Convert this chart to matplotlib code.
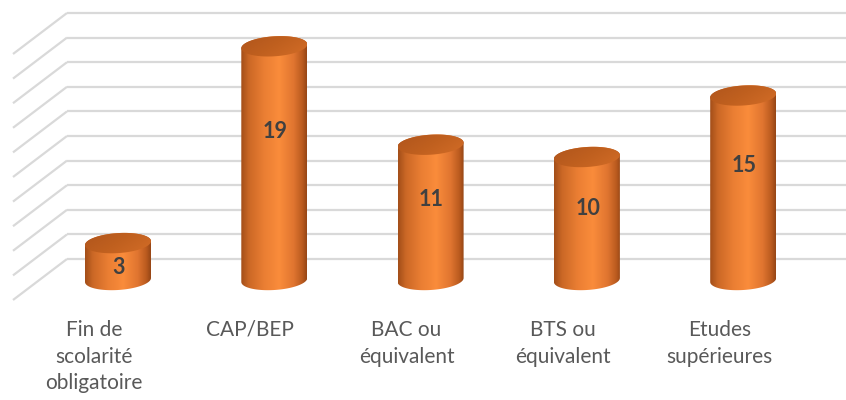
import numpy as np
import matplotlib
matplotlib.use("Agg")
import matplotlib.pyplot as plt
from matplotlib.patches import Polygon
from matplotlib.colors import LinearSegmentedColormap

# ---- data ----
categories = ["Fin de\nscolarité\nobligatoire", "CAP/BEP", "BAC ou\néquivalent",
              "BTS ou\néquivalent", "Etudes\nsupérieures"]
values = [3, 19, 11, 10, 15]
grid_values = np.arange(0, 21, 2)

# ---- layout (pixel scale of the data units) ----
W, H = 846, 400
PX_X = 156.3      # px per category
PX_Y = 12.3       # px per value unit
X0, Y0 = 118, 280 # pixel position of category 0 / value 0 (bar plane)

fig = plt.figure(figsize=(W / 100, H / 100), dpi=100)
ax = fig.add_axes([0, 0, 1, 1])
ax.set_xlim(-X0 / PX_X, (W - X0) / PX_X)
ax.set_ylim(-(H - Y0) / PX_Y, Y0 / PX_Y)
ax.axis("off")

def ux(px):   # horizontal pixel offset -> data units
    return px / PX_X

def uy(px):   # downward pixel offset -> data units
    return -px / PX_Y

# ---- gridlines (back wall + side wall in perspective) ----
grid_col = "#D9D9D9"
back_dx, back_dy = ux(-51), uy(-21)     # back-left corner relative to bar plane
front_dx, front_dy = ux(-105), uy(20)   # front-left end of the side wall
for g in grid_values:
    yb = g + back_dy
    ax.plot([back_dx, ax.get_xlim()[1]], [yb, yb], color=grid_col, lw=1.6,
            solid_capstyle="butt", zorder=1)
    ax.plot([front_dx, back_dx], [g + front_dy, yb], color=grid_col, lw=1.6,
            solid_capstyle="butt", zorder=1)

# ---- cylinders ----
body_cmap = LinearSegmentedColormap.from_list(
    "body", [(0.0, "#A24E19"), (0.12, "#CB6826"), (0.35, "#EA7E33"),
             (0.58, "#FA8C3B"), (0.80, "#E07530"), (0.93, "#BB5B1F"),
             (1.0, "#964616")])
cap_cmap = LinearSegmentedColormap.from_list(
    "cap", [(0.0, "#AE541C"), (0.5, "#C0601F"), (1.0, "#D56E28")])

HALF_W = 33.0   # px
B = 10.0        # px semi-minor of the ellipses
TILT = 0.06     # right side higher

def ellipse_pts(cx, cy, t):
    dxp = HALF_W * np.cos(t)
    dyp = B * np.sin(t) - TILT * dxp
    return cx + ux(dxp), cy + uy(dyp)

for i, v in enumerate(values):
    t_top_back = np.linspace(0, -np.pi, 60)        # right -> left via back
    t_bot_front = np.linspace(np.pi, 0, 60)        # left -> right via front
    tx, ty = ellipse_pts(i, v, t_top_back)
    bx, by = ellipse_pts(i, 0, t_bot_front)
    verts = np.column_stack([np.concatenate([tx, bx]), np.concatenate([ty, by])])
    body = Polygon(verts, closed=True, facecolor="none", edgecolor="none", zorder=3)
    ax.add_patch(body)
    grad = np.linspace(0, 1, 256).reshape(1, -1)
    im = ax.imshow(grad, cmap=body_cmap, aspect="auto", interpolation="bilinear",
                   extent=[i - ux(HALF_W), i + ux(HALF_W), uy(B + 6), v - uy(B + 6)],
                   zorder=3)
    im.set_clip_path(body)

    # top cap
    t_all = np.linspace(0, 2 * np.pi, 120)
    cx_, cy_ = ellipse_pts(i, v, t_all)
    cap = Polygon(np.column_stack([cx_, cy_]), closed=True, facecolor="none",
                  edgecolor="none", zorder=4)
    ax.add_patch(cap)
    yy, xx = np.mgrid[0:1:64j, 0:1:64j]
    cap_grad = 0.6 * xx + 0.4 * yy
    im2 = ax.imshow(cap_grad, cmap=cap_cmap, aspect="auto", interpolation="bilinear",
                    origin="upper",
                    extent=[i - ux(HALF_W), i + ux(HALF_W), v + uy(B + 4), v - uy(B + 4)],
                    zorder=4)
    im2.set_clip_path(cap)

    # value label
    ax.text(i + ux(1), 0.69 * v - 1.05, str(v), ha="center", va="center",
            fontsize=15.5, fontweight="bold", color="#404040", family="Lato", zorder=6)

# ---- category labels ----
for i, c in enumerate(categories):
    ax.text(i + ux(-24), uy(40), c, ha="center", va="top", fontsize=15,
            color="#595959", family="Lato", linespacing=1.42, zorder=6)

fig.savefig("out.png", dpi=100, facecolor="white")
